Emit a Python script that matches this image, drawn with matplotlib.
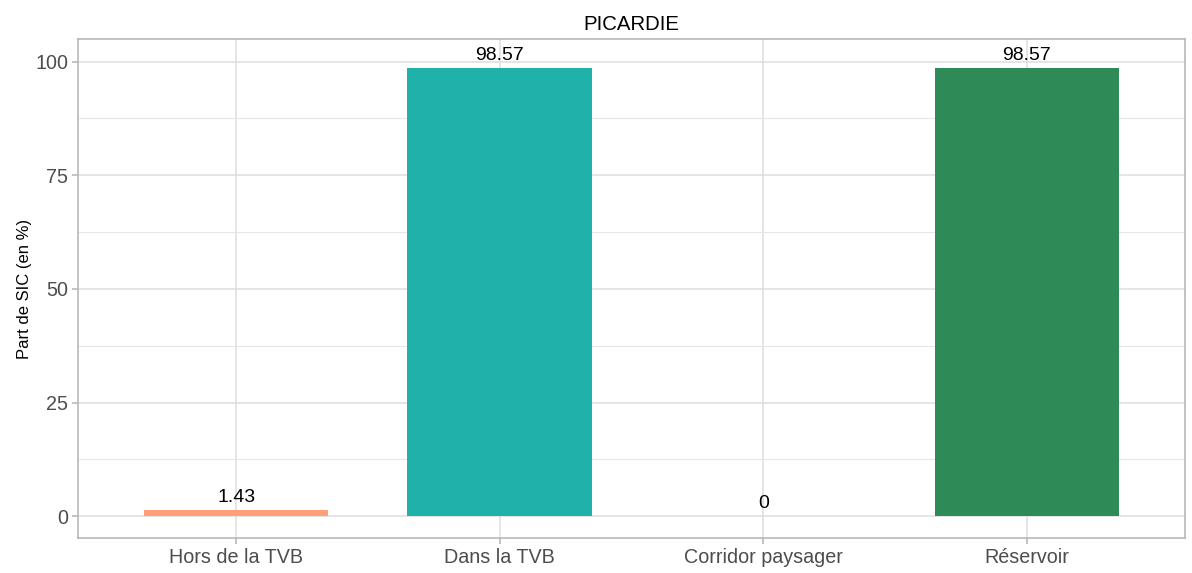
import matplotlib
matplotlib.use("Agg")
import matplotlib.pyplot as plt
from matplotlib.ticker import MultipleLocator

categories = ["Hors de la TVB", "Dans la TVB", "Corridor paysager", "Réservoir"]
values = [1.43, 98.57, 0, 98.57]
labels = ["1.43", "98.57", "0", "98.57"]
colors = ["#FFA07A", "#20B2AA", "#8FBC8F", "#2E8B57"]
title = "PICARDIE"
ylabel = "Part de SIC (en %)"
yticks = [0, 25, 50, 75, 100]

plt.rcParams['font.family'] = ['Liberation Sans', 'DejaVu Sans']

fig = plt.figure(figsize=(11.92, 5.73), dpi=100)
ax = fig.add_axes([78/1192, 1-538.3/573, (1185-78)/1192, (538.3-39.3)/573])

x = list(range(1, len(categories)+1))
ax.bar(x, values, width=0.7, color=colors, zorder=3)
for xi, v, lab in zip(x, values, labels):
    ax.annotate(lab, (xi, v), xytext=(0, 3), textcoords="offset points",
                ha="center", va="bottom", fontsize=14, color="black", zorder=4)

ax.set_xlim(0.4, 4.6)
ax.set_ylim(-4.84, 104.9)
ax.set_xticks(x)
ax.set_xticklabels(categories)
ax.set_yticks(yticks)
ax.yaxis.set_minor_locator(MultipleLocator(12.5))
ax.grid(True, which="major", color="#DEDEDE", linewidth=1.1, zorder=0)
ax.grid(True, which="minor", axis="y", color="#E6E6E6", linewidth=0.8, zorder=0)
ax.tick_params(axis="both", which="major", labelsize=14.2, labelcolor="#4D4D4D",
               color="#B3B3B3", length=4, width=1.1, pad=3)
ax.tick_params(axis="y", which="minor", length=0)
for s in ax.spines.values():
    s.set_color("#B3B3B3")
    s.set_linewidth(1.1)
ax.set_ylabel(ylabel, fontsize=12, color="black", labelpad=2)
ax.set_title(title, fontsize=14.7, color="black", pad=7)

fig.savefig("out.png", dpi=100)
